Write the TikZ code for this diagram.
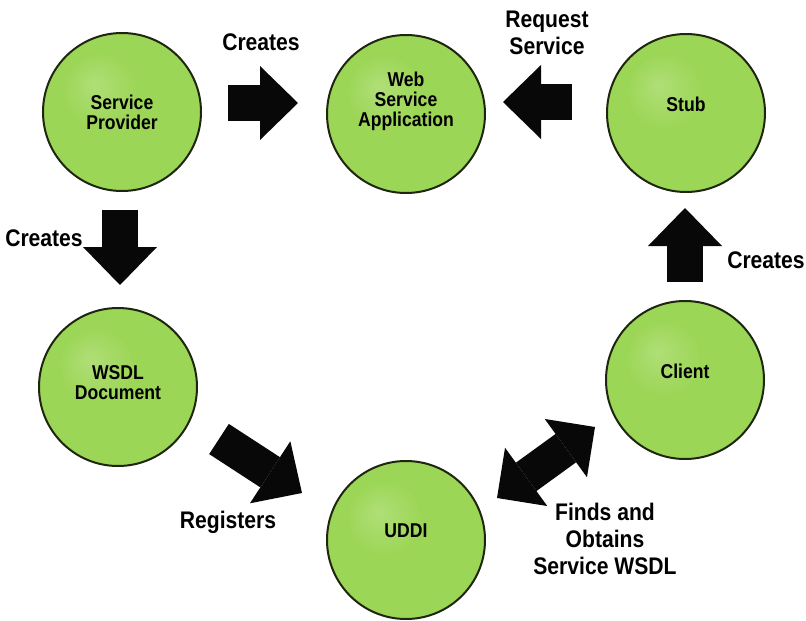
\documentclass[tikz,border=0pt]{standalone}
\usepackage{fontspec}
\setmainfont{Liberation Sans}[FakeStretch=0.88]
\usetikzlibrary{arrows.meta}
\definecolor{btnlight}{RGB}{156,214,86}
\definecolor{btnmid}{RGB}{120,180,56}
\definecolor{btndark}{RGB}{58,88,24}
\definecolor{btnrim}{RGB}{30,38,16}
\definecolor{arrowblack}{RGB}{8,8,8}
\pgfdeclareradialshading{btnshade}{\pgfpoint{-9bp}{9bp}}{color(0bp)=(btnlight!80!white); color(12bp)=(btnlight); color(37bp)=(btnlight); color(45bp)=(btnmid); color(50bp)=(btndark)}
\tikzset{
  btn/.style={circle, minimum size=158pt, inner sep=0pt, draw=btnrim, line width=2pt,
    shading=btnshade, align=center, text=black, font=\bfseries\fontsize{20}{20}\selectfont},
  blockarrow/.style={draw=arrowblack, line width=36pt,
    -{Triangle[length=38pt,width=74pt,line width=0pt]}},
  dblarrow/.style={draw=arrowblack, line width=35pt,
    {Triangle[length=36pt,width=72pt,line width=0pt]}-{Triangle[length=36pt,width=72pt,line width=0pt]}}
}
\begin{document}
\begin{tikzpicture}[x=1pt,y=-1pt]
  \useasboundingbox[fill=white] (0,0) rectangle (806,621);
  % the six roles
  \node[btn] (sp)     at (122,112) {Service\\Provider};
  \node[btn, text depth=30pt] (wsa) at (406,114) {Web\\Service\\Application};
  \node[btn, text depth=18pt] (stub) at (686,113) {Stub};
  \node[btn, text depth=8pt] (wsdl) at (118,387) {WSDL\\Document};
  \node[btn, text depth=18pt] (uddi) at (406,540) {UDDI};
  \node[btn, text depth=18pt] (client) at (685,380) {Client};
  % block arrows
  \draw[blockarrow] ([shift={(106,-9)}]sp.center) -- ([shift={(-108,-11)}]wsa.center);
  \draw[blockarrow] ([shift={(-114,-11)}]stub.center) -- ([shift={(97,-12)}]wsa.center);
  \draw[blockarrow] ([shift={(-2,98)}]sp.center) -- ([shift={(2,-102)}]wsdl.center);
  \draw[blockarrow] ([shift={(0,-98)}]client.center) -- ([shift={(-1,95)}]stub.center);
  \draw[blockarrow] ([shift={(101,52)}]wsdl.center) -- ([shift={(-104,-47)}]uddi.center);
  \draw[dblarrow] ([shift={(91,-42)}]uddi.center) -- ([shift={(-90,47)}]client.center);
  \begin{scope}[every node/.style={align=center, inner sep=0pt, font=\bfseries\fontsize{24}{27}\selectfont}]
    \node (lcreate1) at (261,42)  {Creates};
    \node (lrequest) at (547,33)  {Request\\Service};
    \node (lcreate2) at (44,238)  {Creates};
    \node (lcreate3) at (766,260) {Creates};
    \node (lregister) at (228,522) {Registers};
    \node (lfinds)   at (605,539) {Finds and\\Obtains\\Service WSDL};
  \end{scope}
\end{tikzpicture}
\end{document}
